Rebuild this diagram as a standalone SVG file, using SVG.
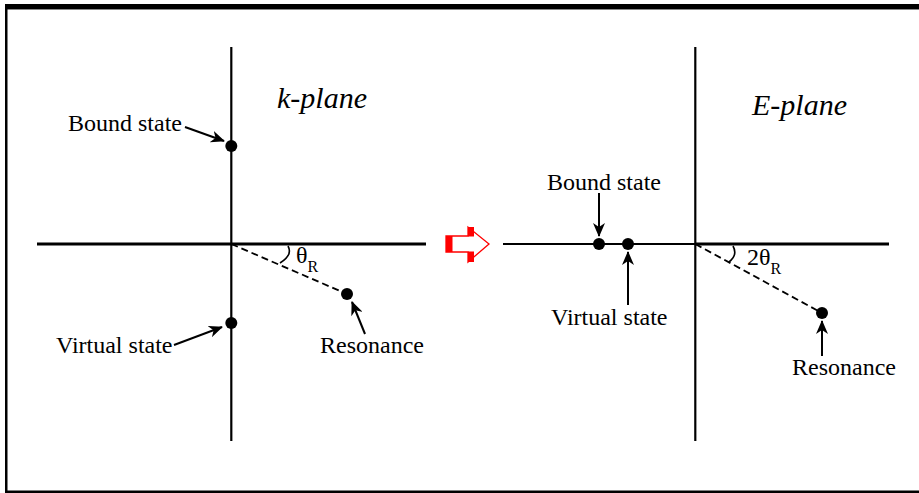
<svg xmlns="http://www.w3.org/2000/svg" width="919" height="493" viewBox="0 0 919 493">
<defs>
<style>
.ax{stroke:#000;fill:none}
.lbl{font-family:"Liberation Serif","Times New Roman",serif;font-size:24px;fill:#000}
.title{font-family:"Liberation Serif","Times New Roman",serif;font-style:italic;font-size:30px;fill:#000}
.ptr{stroke:#000;stroke-width:2;fill:none;marker-end:url(#ah)}
.dash{stroke:#000;stroke-width:1.8;stroke-dasharray:7,4;fill:none}
.dot{fill:#000}
</style>
<marker id="ah" markerWidth="14" markerHeight="12" refX="13" refY="6" orient="auto" markerUnits="userSpaceOnUse">
<path d="M0,0 L14,6 L0,12 L4,6 z" fill="#000"/>
</marker>
</defs>
<rect width="919" height="493" fill="#fff"/>
<g id="frame">
<rect x="5" y="4" width="914" height="5" fill="#000"/>
<rect x="7" y="9" width="912" height="1" fill="#888"/>
<rect x="5" y="4" width="2.5" height="489" fill="#000"/>
<rect x="5" y="490.5" width="914" height="2.5" fill="#000"/>
</g>
<g id="k-plane">
<line class="ax" x1="37" y1="244" x2="426" y2="244" stroke-width="3"/>
<line class="ax" x1="231.3" y1="47" x2="231.3" y2="441" stroke-width="2.2"/>
<text class="title" x="277" y="108">k-plane</text>
</g>
<g id="k-bound">
<circle class="dot" cx="231.3" cy="146" r="6"/>
<text class="lbl" x="68" y="131">Bound state</text>
</g>
<g id="k-virtual">
<circle class="dot" cx="231.3" cy="323" r="6"/>
<text class="lbl" x="56" y="353">Virtual state</text>
</g>
<g id="k-resonance">
<circle class="dot" cx="347" cy="294" r="6"/>
<text class="lbl" x="320" y="353">Resonance</text>
</g>
<g id="k-angle">
<path class="ax" stroke-width="1.6" d="M288,246 Q293,255 280,263"/>
<text class="lbl" x="296" y="263">θ<tspan font-size="16" dy="9">R</tspan></text>
</g>
<g id="transform-arrow">
<polygon points="446,236 468,236 468,227 489,244 468,262 468,252 446,252" fill="#fff" stroke="#f00" stroke-width="1.3"/>
<rect x="446" y="236" width="6.5" height="16" fill="#f00"/>
<rect x="468" y="227" width="6" height="9.5" fill="#f00"/>
<rect x="468" y="251.5" width="6" height="10.5" fill="#f00"/>
</g>
<g id="E-plane">
<line class="ax" x1="503" y1="244" x2="695" y2="244" stroke-width="2.2"/>
<line class="ax" x1="695" y1="244" x2="889" y2="244" stroke-width="3"/>
<line class="ax" x1="695.3" y1="47" x2="695.3" y2="441" stroke-width="2.2"/>
<text class="title" x="752" y="115">E-plane</text>
</g>
<g id="E-bound">
<circle class="dot" cx="599" cy="244" r="6"/>
<text class="lbl" x="547" y="190">Bound state</text>
</g>
<g id="E-virtual">
<circle class="dot" cx="628" cy="244" r="6"/>
<text class="lbl" x="551" y="325">Virtual state</text>
</g>
<g id="E-resonance">
<circle class="dot" cx="822" cy="313" r="6"/>
<text class="lbl" x="792" y="375">Resonance</text>
</g>
<g id="E-angle">
<path class="ax" stroke-width="1.6" d="M733,246 Q738,255 729,262"/>
<text class="lbl" x="747" y="265">2θ<tspan font-size="16" dy="9">R</tspan></text>
</g>
<g id="connectors">
<line class="dash" x1="231.3" y1="244" x2="347" y2="294"/>
<line class="dash" x1="695.3" y1="244" x2="822" y2="313"/>
<line class="ptr" x1="185" y1="127" x2="224" y2="141"/>
<line class="ptr" x1="174" y1="345" x2="222" y2="327"/>
<line class="ptr" x1="365" y1="334" x2="352" y2="302"/>
<line class="ptr" x1="599" y1="193" x2="599" y2="236"/>
<line class="ptr" x1="628" y1="305" x2="628" y2="252"/>
<line class="ptr" x1="822" y1="356" x2="822" y2="321"/>
</g>
</svg>
